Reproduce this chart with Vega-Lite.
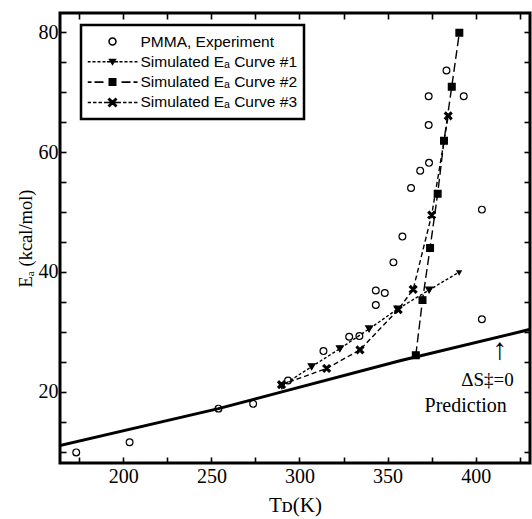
{
  "$schema": "https://vega.github.io/schema/vega-lite/v6.json",
  "width": 470,
  "height": 450,
  "autosize": {"type": "none"},
  "padding": {"left": 60, "top": 13, "right": 2, "bottom": 56},
  "background": "white",
  "datasets": {
    "pts": [
      {"series": "PMMA, Experiment", "T": 173.3, "E": 9.9},
      {"series": "PMMA, Experiment", "T": 203.6, "E": 11.6},
      {"series": "PMMA, Experiment", "T": 254.0, "E": 17.2},
      {"series": "PMMA, Experiment", "T": 273.7, "E": 18.0},
      {"series": "PMMA, Experiment", "T": 293.5, "E": 21.9},
      {"series": "PMMA, Experiment", "T": 313.6, "E": 26.8},
      {"series": "PMMA, Experiment", "T": 328.2, "E": 29.2},
      {"series": "PMMA, Experiment", "T": 334.0, "E": 29.3},
      {"series": "PMMA, Experiment", "T": 343.3, "E": 34.5},
      {"series": "PMMA, Experiment", "T": 343.3, "E": 36.9},
      {"series": "PMMA, Experiment", "T": 348.4, "E": 36.5},
      {"series": "PMMA, Experiment", "T": 353.3, "E": 41.6},
      {"series": "PMMA, Experiment", "T": 358.4, "E": 45.9},
      {"series": "PMMA, Experiment", "T": 363.3, "E": 54.0},
      {"series": "PMMA, Experiment", "T": 368.5, "E": 56.9},
      {"series": "PMMA, Experiment", "T": 373.5, "E": 58.2},
      {"series": "PMMA, Experiment", "T": 373.3, "E": 64.5},
      {"series": "PMMA, Experiment", "T": 373.3, "E": 69.3},
      {"series": "PMMA, Experiment", "T": 383.4, "E": 73.6},
      {"series": "PMMA, Experiment", "T": 393.2, "E": 69.3},
      {"series": "PMMA, Experiment", "T": 403.5, "E": 50.4},
      {"series": "PMMA, Experiment", "T": 403.5, "E": 32.1},
      {"series": "Simulated Eₐ Curve #1", "T": 290.0, "E": 21.0},
      {"series": "Simulated Eₐ Curve #1", "T": 306.9, "E": 24.2},
      {"series": "Simulated Eₐ Curve #1", "T": 322.9, "E": 27.2},
      {"series": "Simulated Eₐ Curve #1", "T": 339.5, "E": 30.5},
      {"series": "Simulated Eₐ Curve #1", "T": 355.6, "E": 33.8},
      {"series": "Simulated Eₐ Curve #1", "T": 373.6, "E": 37.0},
      {"series": "Simulated Eₐ Curve #1", "T": 391.0, "E": 40.05},
      {"series": "Simulated Eₐ Curve #2", "T": 366.0, "E": 26.1},
      {"series": "Simulated Eₐ Curve #2", "T": 369.8, "E": 35.3},
      {"series": "Simulated Eₐ Curve #2", "T": 374.1, "E": 44.0},
      {"series": "Simulated Eₐ Curve #2", "T": 378.4, "E": 53.05},
      {"series": "Simulated Eₐ Curve #2", "T": 382.0, "E": 61.9},
      {"series": "Simulated Eₐ Curve #2", "T": 386.4, "E": 70.9},
      {"series": "Simulated Eₐ Curve #2", "T": 390.7, "E": 79.9},
      {"series": "Simulated Eₐ Curve #3", "T": 289.8, "E": 21.2},
      {"series": "Simulated Eₐ Curve #3", "T": 315.4, "E": 23.9},
      {"series": "Simulated Eₐ Curve #3", "T": 334.3, "E": 27.0},
      {"series": "Simulated Eₐ Curve #3", "T": 356.0, "E": 33.7},
      {"series": "Simulated Eₐ Curve #3", "T": 364.5, "E": 37.1},
      {"series": "Simulated Eₐ Curve #3", "T": 375.0, "E": 49.5},
      {"series": "Simulated Eₐ Curve #3", "T": 384.4, "E": 66.05}
    ],
    "pred": [
      {"T": 164.0, "E": 11.05},
      {"T": 254.0, "E": 17.2},
      {"T": 290.0, "E": 20.0},
      {"T": 357.0, "E": 25.2},
      {"T": 432.0, "E": 30.5}
    ]
  },
  "config": {
    "view": {"stroke": "black", "strokeWidth": 3},
    "legend": {"strokeWidth": 2.5},
    "axis": {
      "domain": false,
      "grid": false,
      "tickSize": -6,
      "tickWidth": 1.6,
      "tickColor": "black",
      "labelFont": "Liberation Serif",
      "labelFontSize": 20,
      "labelColor": "black",
      "labelFlush": false,
      "labelOverlap": false,
      "labelPadding": 9,
      "titleFont": "Liberation Serif",
      "titleFontSize": 21,
      "titleFontWeight": "normal",
      "titleColor": "black"
    }
  },
  "resolve": {
    "axis": {"x": "independent", "y": "independent"},
    "scale": {"shape": "independent"}
  },
  "layer": [
    {
      "data": {"name": "pred"},
      "mark": {"type": "line", "color": "black", "strokeWidth": 3, "clip": true},
      "encoding": {
        "x": {
          "field": "T", "type": "quantitative",
          "scale": {"domain": [164.1, 430.8], "nice": false, "zero": false},
          "axis": {
            "orient": "bottom", "title": "Tᴅ(K)",
            "values": [175, 200, 225, 250, 275, 300, 325, 350, 375, 400, 425],
            "labelExpr": "datum.value % 50 === 0 ? datum.label : ''",
            "titlePadding": 8
          }
        },
        "y": {
          "field": "E", "type": "quantitative",
          "scale": {"domain": [8.13, 83.2], "nice": false, "zero": false},
          "axis": {
            "orient": "left", "title": "Eₐ (kcal/mol)",
            "values": [10, 15, 20, 25, 30, 35, 40, 45, 50, 55, 60, 65, 70, 75, 80],
            "labelExpr": "datum.value % 20 === 0 ? datum.label : ''",
            "labelPadding": 8,
            "titlePadding": 3,
            "titleFontSize": 18.5
          }
        }
      }
    },
    {
      "data": {"name": "pts"},
      "transform": [{"filter": "indexof(datum.series, 'PMMA') < 0"}],
      "mark": {"type": "line", "color": "black", "strokeWidth": 1.4},
      "encoding": {
        "x": {
          "field": "T", "type": "quantitative",
          "axis": {
            "orient": "top", "labels": false, "title": null,
            "values": [175, 200, 225, 250, 275, 300, 325, 350, 375, 400, 425]
          }
        },
        "y": {
          "field": "E", "type": "quantitative",
          "axis": {
            "orient": "right", "labels": false, "title": null,
            "values": [10, 15, 20, 25, 30, 35, 40, 45, 50, 55, 60, 65, 70, 75, 80]
          }
        },
        "strokeDash": {
          "field": "series", "type": "nominal",
          "scale": {
            "domain": ["Simulated Eₐ Curve #1", "Simulated Eₐ Curve #2", "Simulated Eₐ Curve #3"],
            "range": [[3, 2], [9, 4], [5, 3]]
          },
          "legend": null
        }
      }
    },
    {
      "data": {"name": "pts"},
      "transform": [{"filter": "!(datum.T > 390.9 && indexof(datum.series, '#1') >= 0)"}],
      "mark": {"type": "point", "filled": true, "stroke": "black", "strokeWidth": 1.2, "size": 46, "opacity": 1},
      "encoding": {
        "x": {"field": "T", "type": "quantitative", "axis": null},
        "y": {"field": "E", "type": "quantitative", "axis": null},
        "fill": {
          "field": "series", "type": "nominal",
          "scale": {
            "domain": ["PMMA, Experiment", "Simulated Eₐ Curve #1", "Simulated Eₐ Curve #2", "Simulated Eₐ Curve #3"],
            "range": ["transparent", "black", "black", "black"]
          },
          "legend": null
        },
        "shape": {
          "field": "series", "type": "nominal",
          "scale": {
            "domain": ["PMMA, Experiment", "Simulated Eₐ Curve #1", "Simulated Eₐ Curve #2", "Simulated Eₐ Curve #3"],
            "range": ["circle", "triangle-down", "square", "M-0.7,-1.1L1.1,0.7L0.7,1.1L-1.1,-0.7ZM-1.1,0.7L0.7,-1.1L1.1,-0.7L-0.7,1.1Z"]
          },
          "legend": null
        }
      }
    },
    {
      "data": {"name": "pts"},
      "transform": [{"filter": "datum.T < 0"}],
      "mark": {"type": "point", "filled": true, "color": "black", "size": 2500, "opacity": 1},
      "encoding": {
        "x": {"field": "T", "type": "quantitative", "axis": null},
        "y": {"field": "E", "type": "quantitative", "axis": null},
        "shape": {
          "field": "series", "type": "nominal",
          "scale": {
            "domain": ["PMMA, Experiment", "Simulated Eₐ Curve #1", "Simulated Eₐ Curve #2", "Simulated Eₐ Curve #3"],
            "range": [
              "M0.17,0A0.17,0.17,0,1,1,-0.17,0A0.17,0.17,0,1,1,0.17,0ZM0.11,0A0.11,0.11,0,1,0,-0.11,0A0.11,0.11,0,1,0,0.11,0Z",
              "M-1,-0.028L-0.88,-0.028L-0.88,0.028L-1,0.028ZM-0.8,-0.028L-0.68,-0.028L-0.68,0.028L-0.8,0.028ZM-0.6,-0.028L-0.48,-0.028L-0.48,0.028L-0.6,0.028ZM-0.4,-0.028L-0.28,-0.028L-0.28,0.028L-0.4,0.028ZM-0.22,-0.028L0.22,-0.028L0.22,0.028L-0.22,0.028ZM0.28,-0.028L0.4,-0.028L0.4,0.028L0.28,0.028ZM0.48,-0.028L0.6,-0.028L0.6,0.028L0.48,0.028ZM0.68,-0.028L0.8,-0.028L0.8,0.028L0.68,0.028ZM0.88,-0.028L1,-0.028L1,0.028L0.88,0.028ZM-0.17,-0.12L0.17,-0.12L0,0.16Z",
              "M-1,-0.032L-0.84,-0.032L-0.84,0.032L-1,0.032ZM-0.72,-0.032L-0.36,-0.032L-0.36,0.032L-0.72,0.032ZM0.36,-0.032L0.72,-0.032L0.72,0.032L0.36,0.032ZM0.84,-0.032L1,-0.032L1,0.032L0.84,0.032ZM-0.16,-0.16L0.16,-0.16L0.16,0.16L-0.16,0.16Z",
              "M-1,-0.03L-0.86,-0.03L-0.86,0.03L-1,0.03ZM-0.78,-0.03L-0.64,-0.03L-0.64,0.03L-0.78,0.03ZM-0.56,-0.03L-0.42,-0.03L-0.42,0.03L-0.56,0.03ZM-0.34,-0.03L0.34,-0.03L0.34,0.03L-0.34,0.03ZM0.42,-0.03L0.56,-0.03L0.56,0.03L0.42,0.03ZM0.64,-0.03L0.78,-0.03L0.78,0.03L0.64,0.03ZM0.86,-0.03L1,-0.03L1,0.03L0.86,0.03ZM-0.12,-0.2L0.2,0.12L0.12,0.2L-0.2,-0.12ZM-0.2,0.12L0.12,-0.2L0.2,-0.12L-0.12,0.2Z"
            ]
          },
          "legend": {
            "title": null,
            "orient": "none",
            "legendX": 21,
            "legendY": 12,
            "symbolSize": 2500,
            "clipHeight": 20,
            "rowPadding": 0.3,
            "symbolOffset": 0,
            "labelOffset": 3,
            "padding": 6.5,
            "strokeColor": "black",
            "fillColor": "white",
            "symbolFillColor": "black",
            "symbolStrokeWidth": 0,
            "labelFont": "Liberation Sans",
            "labelFontSize": 15.5,
            "labelColor": "black",
            "labelLimit": 400
          }
        }
      }
    },
    {
      "data": {"name": "pts"},
      "transform": [{"filter": "datum.T > 390.9 && indexof(datum.series, '#1') >= 0"}],
      "mark": {"type": "point", "shape": "triangle-right", "angle": -31, "filled": true, "color": "black", "size": 40, "opacity": 1},
      "encoding": {
        "x": {"field": "T", "type": "quantitative", "axis": null},
        "y": {"field": "E", "type": "quantitative", "axis": null}
      }
    },
    {
      "data": {"values": [{"T": 406.7, "E": 21.05, "note": "ΔS‡=0"}]},
      "mark": {"type": "text", "font": "Liberation Serif", "fontSize": 19, "color": "black", "align": "center", "baseline": "alphabetic"},
      "encoding": {
        "x": {"field": "T", "type": "quantitative", "axis": null},
        "y": {"field": "E", "type": "quantitative", "axis": null},
        "text": {"field": "note"}
      }
    },
    {
      "data": {"values": [{"T": 394.3, "E": 16.6, "note": "Prediction"}]},
      "mark": {"type": "text", "font": "Liberation Serif", "fontSize": 20, "color": "black", "align": "center", "baseline": "alphabetic"},
      "encoding": {
        "x": {"field": "T", "type": "quantitative", "axis": null},
        "y": {"field": "E", "type": "quantitative", "axis": null},
        "text": {"field": "note"}
      }
    },
    {
      "data": {"values": [{"T": 413.6, "E": 26.9, "note": "↑"}]},
      "mark": {"type": "text", "font": "Liberation Serif", "fontSize": 30, "color": "black", "align": "center", "baseline": "middle"},
      "encoding": {
        "x": {"field": "T", "type": "quantitative", "axis": null},
        "y": {"field": "E", "type": "quantitative", "axis": null},
        "text": {"field": "note"}
      }
    }
  ]
}
